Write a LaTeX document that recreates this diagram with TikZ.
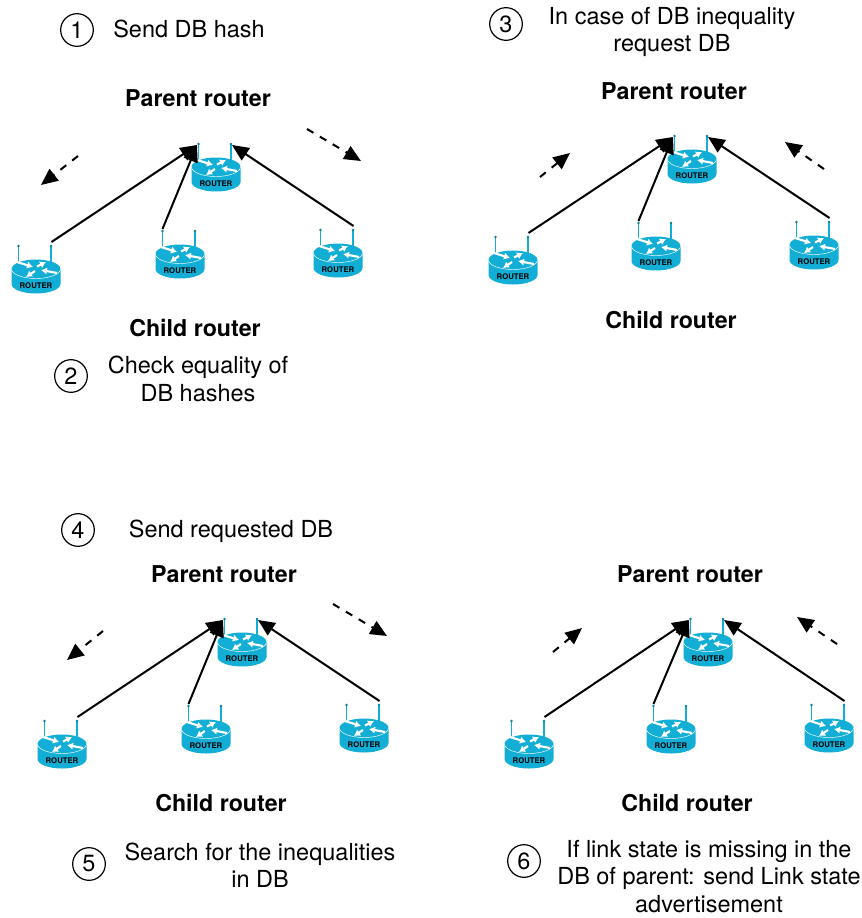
\documentclass[tikz,border=0pt]{standalone}
\usepackage{fontspec}
\setmainfont{TeX Gyre Heros}
\usetikzlibrary{arrows.meta}
\definecolor{routerblue}{HTML}{12AED6}
\definecolor{routertip}{HTML}{0B7F9C}
\tikzset{
  label/.style={font=\fontsize{17.6}{20.5}\selectfont, align=center, inner sep=0pt},
  title/.style={font=\fontsize{17.4}{20}\selectfont\bfseries, inner sep=0pt},
  number/.style={draw, circle, line width=0.9pt, minimum size=24.5pt, inner sep=0pt, font=\fontsize{17.6}{20}\selectfont},
  link/.style={black, line width=1.5pt, -{Triangle[length=12.5pt,width=11pt]}},
  flow/.style={black, line width=1.5pt, dash pattern=on 5.6pt off 5.6pt, -{Triangle[length=12.5pt,width=11pt]}},
  routerpic/.pic={
    \fill[routerblue] (-24.5,-8) -- (-24.5,7) arc[start angle=180,end angle=0,x radius=24.5,y radius=9.5] -- (24.5,-8) -- cycle;
    \fill[routerblue] (0,-8) ellipse[x radius=24.5,y radius=9.5];
    \draw[white, line width=0.35pt] (-24.5,-8) arc[start angle=180,end angle=0,x radius=24.5,y radius=9.5];
    \draw[routerblue, line width=0.9pt] (-17.5,-12) -- (-17.5,-31);
    \draw[routerblue, line width=0.9pt] (15,-12) -- (15,-31);
    \fill[routertip] (-17.5,-31) circle[radius=1.3];
    \fill[routertip] (15,-31) circle[radius=1.3];
    \draw[white, line width=1.6pt, -{Latex[length=4.5pt,width=5.5pt]}] (-19,-15) -- (-3,-10);
    \draw[white, line width=1.6pt, -{Latex[length=4.5pt,width=5.5pt]}] (1,-10.5) -- (10,-15);
    \draw[white, line width=1.6pt, -{Latex[length=4.5pt,width=5.5pt]}] (-1,-6) -- (-10,0);
    \draw[white, line width=1.6pt, -{Latex[length=4.5pt,width=5.5pt]}] (21,-4) -- (5,-7);
    \node[font=\fontsize{5.8}{6}\selectfont\bfseries, inner sep=0pt] (-name) at (0,8.5) {ROUTER};
    \coordinate (-ltop) at (-17.5,-33);
    \coordinate (-rtop) at (15.5,-35);
    \coordinate (-lin) at (-19,-30);
    \coordinate (-rin) at (16,-30);
  }
}
\begin{document}
\begin{tikzpicture}[x=0.75pt,y=-0.75pt]
\useasboundingbox (0,0) rectangle (861,918);

% upper left
\node[number] (numa) at (77,30) {1};
\node[label] (texta) at (189,29) {Send DB hash};
\node[title] (parenta) at (198,98) {Parent router};
\pic (ra) at (216,175) {routerpic};
\pic (ra1) at (36,277) {routerpic};
\pic (ra2) at (180,262) {routerpic};
\pic (ra3) at (338,261) {routerpic};
\draw[link] (ra1-rtop) -- (ra-lin);
\draw[link] (ra2-ltop) -- (ra-lin);
\draw[link] (ra3-rtop) -- (ra-rin);
\coordinate (fa1) at (78,156);
\coordinate (ga1) at (41,185);
\coordinate (fa2) at (307,129);
\coordinate (ga2) at (361,161);
\draw[flow] (fa1) -- (ga1);
\draw[flow] (fa2) -- (ga2);
\node[title] (childa) at (195,328) {Child router};
\node[number] (numb) at (71,376) {2};
\node[label] (textb) at (198,379) {Check equality of\\DB hashes};

% upper right
\node[number] (numc) at (506,24) {3};
\node[label] (textc) at (672,32) {In case of DB inequality\\request DB};
\node[title] (parentb) at (674,91) {Parent router};
\pic (rb) at (692,167) {routerpic};
\pic (rb1) at (513,268) {routerpic};
\pic (rb2) at (656,254) {routerpic};
\pic (rb3) at (814,253) {routerpic};
\draw[link] (rb1-rtop) -- (rb-lin);
\draw[link] (rb2-ltop) -- (rb-lin);
\draw[link] (rb3-rtop) -- (rb-rin);
\coordinate (fb1) at (540,177);
\coordinate (gb1) at (570,153);
\coordinate (fb2) at (824,169);
\coordinate (gb2) at (785,142);
\draw[flow] (fb1) -- (gb1);
\draw[flow] (fb2) -- (gb2);
\node[title] (childb) at (671,320) {Child router};

% lower left
\node[number] (numd) at (78,530) {4};
\node[label] (textd) at (231,531) {Send requested DB};
\node[title] (parentc) at (224,574) {Parent router};
\pic (rc) at (242,650) {routerpic};
\pic (rc1) at (62,752) {routerpic};
\pic (rc2) at (206,737) {routerpic};
\pic (rc3) at (364,736) {routerpic};
\draw[link] (rc1-rtop) -- (rc-lin);
\draw[link] (rc2-ltop) -- (rc-lin);
\draw[link] (rc3-rtop) -- (rc-rin);
\coordinate (fc1) at (103,631);
\coordinate (gc1) at (67,660);
\coordinate (fc2) at (333,604);
\coordinate (gc2) at (387,636);
\draw[flow] (fc1) -- (gc1);
\draw[flow] (fc2) -- (gc2);
\node[title] (childc) at (221,803) {Child router};
\node[number] (nume) at (89,864) {5};
\node[label] (texte) at (260,865) {Search for the inequalities\\in DB};

% lower right
\node[title] (parentd) at (690,574) {Parent router};
\pic (rd) at (708,650) {routerpic};
\pic (rd1) at (529,752) {routerpic};
\pic (rd2) at (671,737) {routerpic};
\pic (rd3) at (829,736) {routerpic};
\draw[link] (rd1-rtop) -- (rd-lin);
\draw[link] (rd2-ltop) -- (rd-lin);
\draw[link] (rd3-rtop) -- (rd-rin);
\coordinate (fd1) at (553,652);
\coordinate (gd1) at (582,628);
\coordinate (fd2) at (837,644);
\coordinate (gd2) at (797,617);
\draw[flow] (fd1) -- (gd1);
\draw[flow] (fd2) -- (gd2);
\node[title] (childd) at (687,803) {Child router};
\node[number] (numf) at (524,861) {6};
\node[label] (textf) at (709,876.5) {If link state is missing in the\\DB of parent: send Link state\\advertisement};

\end{tikzpicture}
\end{document}
